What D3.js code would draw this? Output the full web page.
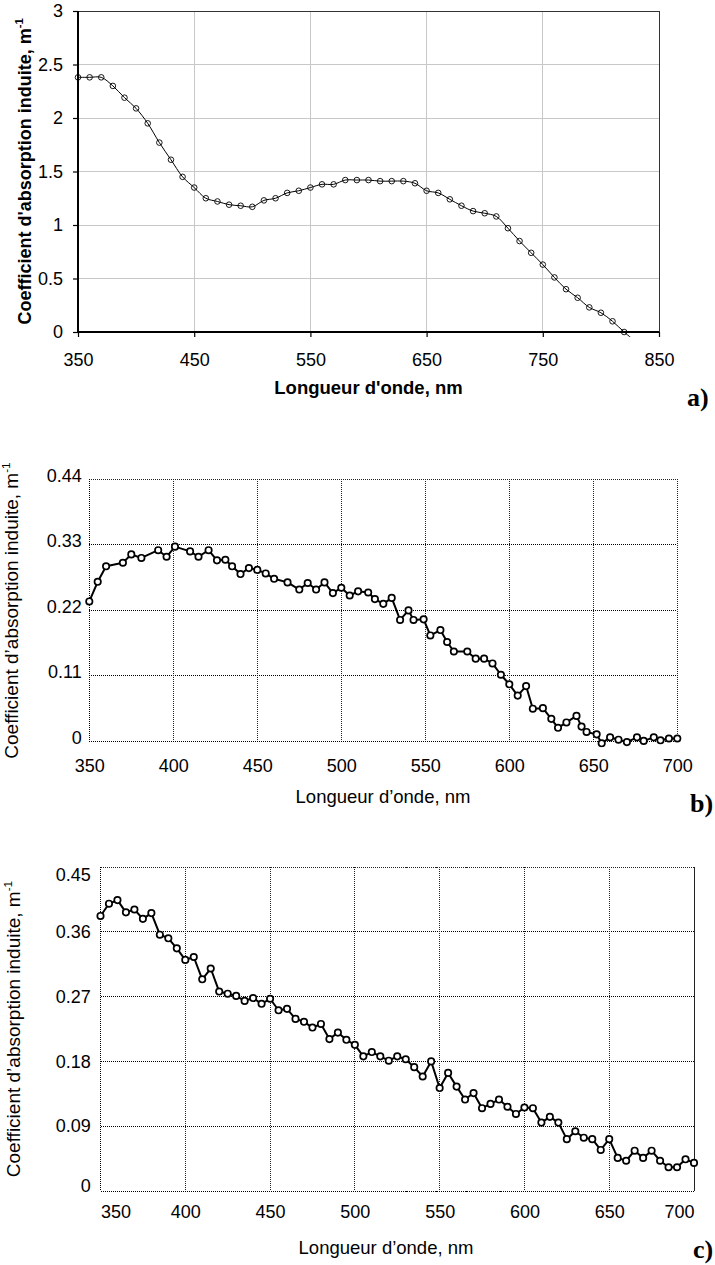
<!DOCTYPE html>
<html>
<head>
<meta charset="utf-8">
<script src="https://cdnjs.cloudflare.com/ajax/libs/d3/7.8.5/d3.min.js"></script>
<style>
body{margin:0;background:#fff}
svg{display:block}
text{font-family:"Liberation Sans",Arial,sans-serif;fill:#000}
</style>
</head>
<body>
<svg id="chart" width="715" height="1265"></svg>
<script>
// ---- data ----
// a) smoothed curve, 10 nm step
var waveA = [350,360,370,380,390,400,410,420,430,440,450,460,470,480,490,500,510,520,530,540,550,560,570,580,590,600,610,620,630,640,650,660,670,680,690,700,710,720,730,740,750,760,770,780,790,800,810,820,830]
var absA = [2.38,2.38,2.38,2.30,2.19,2.09,1.95,1.77,1.61,1.45,1.35,1.25,1.22,1.19,1.18,1.17,1.23,1.25,1.30,1.32,1.35,1.38,1.38,1.42,1.42,1.42,1.41,1.41,1.41,1.39,1.32,1.30,1.24,1.18,1.13,1.11,1.08,0.97,0.85,0.74,0.63,0.51,0.40,0.32,0.23,0.18,0.10,0.00,-0.09]
var xTicksA = [350,450,550,650,750,850]
var yTicksA = [0,0.5,1,1.5,2,2.5,3]

// b)
var waveB = [350,355,360,370,375,381,391,396,401,410,415,421,426,431,435,440,445,450,455,460,468,475,480,485,490,495,500,505,510,516,520,525,530,535,540,543,549,553,559,563,567,575,580,585,590,595,600,605,610,614,620,625,629,634,640,643,646,652,655,660,665,670,676,680,686,690,695,700]
var absB = [0.235,0.268,0.294,0.300,0.314,0.308,0.321,0.310,0.327,0.319,0.310,0.321,0.304,0.305,0.294,0.281,0.291,0.288,0.282,0.273,0.267,0.255,0.266,0.255,0.267,0.249,0.258,0.245,0.252,0.250,0.239,0.231,0.241,0.204,0.220,0.204,0.205,0.178,0.187,0.167,0.151,0.151,0.139,0.139,0.131,0.112,0.096,0.077,0.093,0.055,0.056,0.038,0.023,0.032,0.043,0.025,0.016,0.012,-0.003,0.007,0.003,-0.001,0.007,0.001,0.007,0.002,0.005,0.005]
var xTicksB = [350,400,450,500,550,600,650,700]
var yTicksB = [0,0.11,0.22,0.33,0.44]

// c) 5 nm step
var waveC = [350,355,360,365,370,375,380,385,390,395,400,405,410,415,420,425,430,435,440,445,450,455,460,465,470,475,480,485,490,495,500,505,510,515,520,525,530,535,540,545,550,555,560,565,570,575,580,585,590,595,600,605,610,615,620,625,630,635,640,645,650,655,660,665,670,675,680,685,690,695,700]
var absC = [0.382,0.399,0.404,0.387,0.391,0.378,0.386,0.356,0.351,0.337,0.321,0.325,0.294,0.309,0.277,0.274,0.271,0.264,0.268,0.260,0.267,0.251,0.253,0.239,0.235,0.227,0.232,0.211,0.220,0.210,0.203,0.187,0.193,0.187,0.181,0.187,0.183,0.172,0.159,0.180,0.143,0.164,0.145,0.127,0.136,0.115,0.121,0.127,0.117,0.107,0.116,0.115,0.095,0.103,0.095,0.072,0.083,0.074,0.072,0.057,0.072,0.046,0.042,0.056,0.046,0.056,0.042,0.033,0.033,0.044,0.039]
var xTicksC = [350,400,450,500,550,600,650,700]
var yTicksC = [0,0.09,0.18,0.27,0.36,0.45]

var titleYa = "Coefficient d'absorption induite, m"
var titleXa = "Longueur d'onde, nm"
var titleY = "Coefficient d\u2019absorption induite, m"
var titleX = "Longueur d\u2019onde, nm"

var svg = d3.select("#chart")
svg.append("rect").attr("width",715).attr("height",1265).attr("fill","#fff")

var fmt = function(d){ return String(d) }

function yTitle(x0, y0, txt, size, weight){
    var t = svg.append("text")
        .attr("transform", "translate(" + x0 + "," + y0 + ") rotate(-90)")
        .attr("text-anchor", "middle")
        .style("font-size", size + "px")
        .style("font-weight", weight)
    t.append("tspan").text(txt)
    t.append("tspan").attr("dy", -size * 0.42).style("font-size", (size * 0.62) + "px").text("-1")
}

function panelLabel(x0, y0, txt){
    svg.append("text").attr("x", x0).attr("y", y0).text(txt)
        .style("font-family", "'Liberation Serif','Times New Roman',serif")
        .style("font-weight", "bold").style("font-size", "26px")
}

// generic panel
function drawPanel(o){
    var x = d3.scaleLinear().domain(o.xDomain).range([o.left, o.right])
    var y = d3.scaleLinear().domain(o.yDomain).range([o.bottom, o.top])
    var g = svg.append("g")

    // grid lines
    g.append("g").attr("shape-rendering", "crispEdges")
        .selectAll("line").data(o.yTicks).enter().append("line")
        .attr("x1", o.left).attr("x2", o.right)
        .attr("y1", function(d){ return y(d) }).attr("y2", function(d){ return y(d) })
        .attr("stroke", o.hGrid.color).attr("stroke-width", o.hGrid.width)
        .attr("stroke-dasharray", o.hGrid.dash)
    g.append("g").attr("shape-rendering", "crispEdges")
        .selectAll("line").data(o.xTicks).enter().append("line")
        .attr("y1", o.top).attr("y2", o.bottom)
        .attr("x1", function(d){ return x(d) }).attr("x2", function(d){ return x(d) })
        .attr("stroke", o.vGrid.color).attr("stroke-width", o.vGrid.width)
        .attr("stroke-dasharray", o.vGrid.dash)

    // frame
    g.append("path").attr("shape-rendering", "crispEdges")
        .attr("d", "M" + o.left + "," + o.top + "H" + o.right + "V" + o.bottom)
        .attr("fill", "none").attr("stroke", o.frame.color).attr("stroke-width", o.frame.width)
        .attr("stroke-dasharray", o.frame.dash)
    g.append("path").attr("shape-rendering", "crispEdges")
        .attr("d", "M" + o.left + "," + o.top + "V" + o.bottom + "H" + o.right)
        .attr("fill", "none").attr("stroke", o.axis.color).attr("stroke-width", o.axis.width)
        .attr("stroke-dasharray", o.axis.dash)

    // axes (labels)
    var xAxis = d3.axisBottom(x).tickValues(o.xTicks).tickFormat(fmt)
        .tickSize(o.tickSize).tickSizeOuter(0).tickPadding(o.xPad)
    var yAxis = d3.axisLeft(y).tickValues(o.yTicks).tickFormat(fmt)
        .tickSize(o.tickSize).tickSizeOuter(0).tickPadding(o.yPad)
    var gx = g.append("g").attr("transform", "translate(0," + o.bottom + ")").call(xAxis)
    var gy = g.append("g").attr("transform", "translate(" + o.left + ",0)").call(yAxis)
    ;[gx, gy].forEach(function(a){
        a.select(".domain").remove()
        a.attr("font-family", null).attr("font-size", null)
        a.selectAll("line").attr("stroke", "#000").attr("stroke-width", 1.2)
        a.selectAll("text").style("font-size", "18px").attr("fill", "#000")
    })
    if (o.yDy) gy.selectAll("text").attr("dy", o.yDy)
    if (o.endLabels){
        gx.selectAll("text").filter(function(d){ return d === o.xTicks[0] }).attr("text-anchor", "start")
        gx.selectAll("text").filter(function(d){ return d === o.xTicks[o.xTicks.length - 1] }).attr("text-anchor", "end")
        gy.selectAll("text").filter(function(d){ return d === o.yTicks[o.yTicks.length - 1] }).attr("dy", "0.75em")
        gy.selectAll("text").filter(function(d){ return d === o.yTicks[0] }).attr("dy", "0.05em")
    }

    // clip
    var cid = "clip" + o.id
    svg.append("clipPath").attr("id", cid).append("rect")
        .attr("x", o.left - 6).attr("y", o.top - 6)
        .attr("width", o.right - o.left + 12).attr("height", o.bottom - o.top + o.clipBottom + 6)

    var pts = o.wave.map(function(w, i){ return [w, o.abs[i]] })
    var line = d3.line()
        .x(function(d){ return x(d[0]) }).y(function(d){ return y(d[1]) })
        .curve(o.curve)
    var gd = g.append("g").attr("clip-path", "url(#" + cid + ")")
    gd.append("path").datum(pts).attr("d", line)
        .attr("fill", "none").attr("stroke", "#000").attr("stroke-width", o.lineWidth)
        .attr("stroke-linejoin", "round")
    gd.selectAll("circle").data(pts.filter(function(d){ return d[1] >= o.yDomain[0] - 0.01 * (o.yDomain[1] - o.yDomain[0]) }))
        .enter().append("circle")
        .attr("cx", function(d){ return x(d[0]) }).attr("cy", function(d){ return y(d[1]) })
        .attr("r", o.r).attr("fill", o.markerFill).attr("stroke", "#000").attr("stroke-width", o.markerStroke)
}

// a)
drawPanel({
    id: "a", wave: waveA, abs: absA, xTicks: xTicksA, yTicks: yTicksA,
    xDomain: [350, 850], yDomain: [0, 3],
    left: 78, right: 659, top: 11, bottom: 332,
    hGrid: {color: "#c8c8c8", width: 1, dash: null},
    vGrid: {color: "#c8c8c8", width: 1, dash: null},
    frame: {color: "#333", width: 1, dash: null},
    axis: {color: "#000", width: 2, dash: null},
    tickSize: 5, xPad: 16, yPad: 10,
    curve: d3.curveCatmullRom, lineWidth: 1, r: 2.8, markerFill: "none", markerStroke: 0.9,
    clipBottom: 5
})
svg.append("text").attr("x", 368.5).attr("y", 394).attr("text-anchor", "middle")
    .style("font-size", "18.5px").style("font-weight", "bold").text(titleXa)
yTitle(31, 171.5, titleYa, 18, "bold")
panelLabel(687, 406, "a)")

// b)
drawPanel({
    id: "b", wave: waveB, abs: absB, xTicks: xTicksB, yTicks: yTicksB,
    xDomain: [350, 700], yDomain: [0, 0.44],
    left: 89.3, right: 677.3, top: 479.3, bottom: 741.5,
    hGrid: {color: "#000", width: 1, dash: "1,1"},
    vGrid: {color: "#222", width: 1, dash: "1,1"},
    frame: {color: "#222", width: 1, dash: "1,1"},
    axis: {color: "#000", width: 1, dash: "1,1"},
    tickSize: 0, xPad: 18, yPad: 7.6, yDy: "0.1em",
    curve: d3.curveLinear, lineWidth: 2, r: 3.2, markerFill: "#fff", markerStroke: 1.7,
    clipBottom: 6
})
svg.append("text").attr("x", 383).attr("y", 803).attr("text-anchor", "middle")
    .style("font-size", "18.5px").text(titleX)
yTitle(17.5, 610.5, titleY, 19, "normal")
panelLabel(690, 812, "b)")

// c)
drawPanel({
    id: "c", wave: waveC, abs: absC, xTicks: xTicksC, yTicks: yTicksC,
    xDomain: [350, 700], yDomain: [0, 0.45],
    left: 100.5, right: 694, top: 867, bottom: 1191,
    hGrid: {color: "#000", width: 1, dash: "1,1"},
    vGrid: {color: "#222", width: 1, dash: "1,1"},
    frame: {color: "#222", width: 1, dash: "1,1"},
    axis: {color: "#000", width: 1, dash: "1,1"},
    tickSize: 0, xPad: 14.3, yPad: 9.8, endLabels: true,
    curve: d3.curveLinear, lineWidth: 2, r: 3.2, markerFill: "#fff", markerStroke: 1.7,
    clipBottom: 6
})
svg.append("text").attr("x", 386).attr("y", 1254).attr("text-anchor", "middle")
    .style("font-size", "18.5px").text(titleX)
yTitle(19.5, 1029, titleY, 19, "normal")
panelLabel(693, 1258, "c)")
</script>
</body>
</html>
